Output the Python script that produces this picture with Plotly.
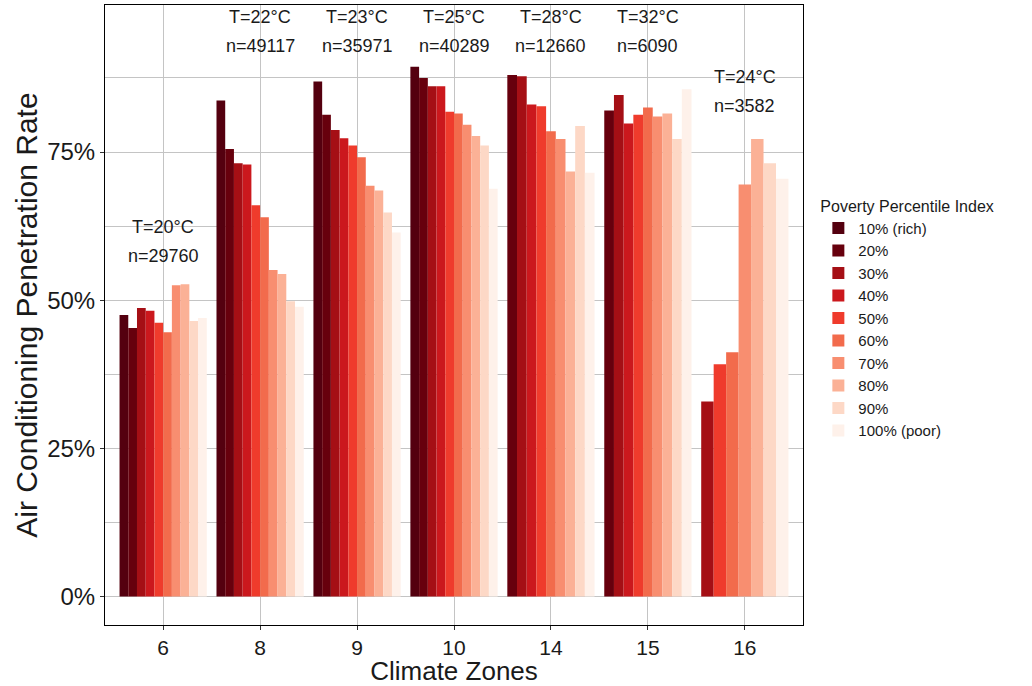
import plotly.graph_objects as go

# ---------------- data ----------------
zones = ["6", "8", "9", "10", "14", "15", "16"]
temps = [20, 22, 23, 25, 28, 32, 24]
counts = [29760, 49117, 35971, 40289, 12660, 6090, 3582]

levels = ["10% (rich)", "20%", "30%", "40%", "50%", "60%", "70%", "80%", "90%", "100% (poor)"]

p10 = [47.5, 83.7, 86.9, 89.4, None, None, None]
p20 = [45.3, 75.5, 81.3, 87.5, 88.0, 82.0, None]
p30 = [48.7, 73.1, 78.7, 86.1, 87.8, 84.6, 32.9]
p40 = [48.2, 72.9, 77.3, 86.1, 83.0, 79.8, None]
p50 = [46.2, 66.0, 76.1, 81.8, 82.7, 81.3, 39.2]
p60 = [44.6, 64.0, 74.1, 81.5, 78.5, 82.5, 41.2]
p70 = [52.5, 55.1, 69.3, 79.6, 77.2, 81.0, 69.5]
p80 = [52.7, 54.4, 68.5, 77.7, 71.7, 81.5, 77.2]
p90 = [46.5, 49.8, 64.8, 76.1, 79.4, 77.2, 73.1]
p100 = [47.0, 48.9, 61.4, 68.8, 71.5, 85.6, 70.5]

series = [p10, p20, p30, p40, p50, p60, p70, p80, p90, p100]

# ---------------- style ----------------
colors = ["#54000f", "#67000d", "#a50f15", "#cb181d", "#ef3b2c",
          "#f26b4c", "#f88e70", "#fbb196", "#fdd8c6", "#fef1ea"]
FONT = "Liberation Sans, Arial, Helvetica, sans-serif"
DODGE = 0.9

# label heights (in axis units) per zone for T / n annotations
label_T = [62.4, 97.8, 97.8, 97.8, 97.8, 97.8, 87.6]
label_n = [57.5, 92.9, 92.9, 92.9, 92.9, 92.9, 82.8]

# dodge like ggplot: bars in each zone share the dodge width among present levels
present = [[s[z] is not None for s in series] for z in range(len(zones))]
n_present = [sum(p) for p in present]

fig = go.Figure()
for i, (name, vals) in enumerate(zip(levels, series)):
    widths, offsets = [], []
    for z in range(len(zones)):
        n = n_present[z]
        w = DODGE / n
        rank = sum(present[z][:i])
        widths.append(w)
        offsets.append(-DODGE / 2 + rank * w)
    fig.add_trace(go.Bar(
        x=zones, y=vals, name=name,
        width=widths, offset=offsets,
        marker=dict(color=colors[i], line=dict(width=0)),
    ))

for z, zone in enumerate(zones):
    # category axis: position annotations by category index
    fig.add_annotation(x=z, y=label_T[z], text=f"T={temps[z]}°C", showarrow=False,
                       font=dict(family=FONT, size=18, color="#1a1a1a"), xref="x", yref="y")
    fig.add_annotation(x=z, y=label_n[z], text=f"n={counts[z]}", showarrow=False,
                       font=dict(family=FONT, size=18, color="#1a1a1a"), xref="x", yref="y")

fig.update_layout(
    width=1032, height=686,
    margin=dict(l=105, r=229, t=5, b=61),
    barmode="overlay",
    plot_bgcolor="white", paper_bgcolor="white",
    font=dict(family=FONT, color="#1a1a1a"),
    legend=dict(
        title=dict(text="Poverty Percentile Index", font=dict(size=16)),
        font=dict(size=15),
        x=1.022, xanchor="left", y=0.70, yanchor="top",
        traceorder="normal",
    ),
    xaxis=dict(
        type="category", range=[-0.6, 6.6], automargin=False,
        showgrid=True, gridcolor="#c4c4c4", gridwidth=1,
        showline=True, linecolor="black", linewidth=1, mirror=True,
        ticks="outside", ticklen=4, tickcolor="#333333",
        tickfont=dict(size=21, color="#1a1a1a"),
        title=dict(text="Climate Zones", font=dict(size=26), standoff=5),
    ),
    yaxis=dict(
        range=[-4.8, 99.8], automargin=False,
        tickmode="array", tickvals=[0, 25, 50, 75], ticktext=["0%", "25%", "50%", "75%"],
        showgrid=True, gridcolor="#c4c4c4", gridwidth=1,
        minor=dict(tickmode="array", tickvals=[12.5, 37.5, 62.5, 87.5],
                   showgrid=True, gridcolor="#c4c4c4", gridwidth=1, ticks=""),
        zeroline=False,
        showline=True, linecolor="black", linewidth=1, mirror=True,
        ticks="outside", ticklen=4, tickcolor="#333333",
        tickfont=dict(size=24, color="#1a1a1a"),
        title=dict(text="Air Conditioning Penetration Rate", font=dict(size=30), standoff=0),
    ),
)

fig.write_html("out.html", config={"displayModeBar": False},
               post_script="document.body.style.margin='0px';")
